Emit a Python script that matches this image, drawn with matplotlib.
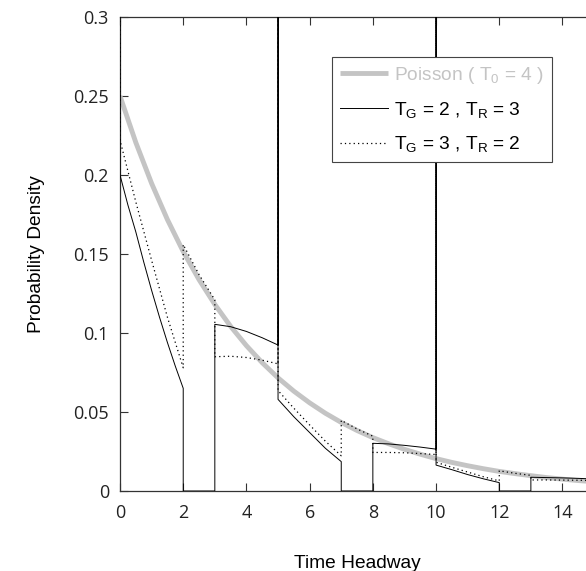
import matplotlib
matplotlib.use("Agg")
import matplotlib.pyplot as plt

plt.rcParams["font.family"] = ["Liberation Sans", "DejaVu Sans"]
plt.rcParams["mathtext.fontset"] = "custom"
plt.rcParams["mathtext.rm"] = "Liberation Sans"
plt.rcParams["mathtext.it"] = "Liberation Sans"

TOP = 1.0  # impulses run off the top of the plot

# Poisson density, T0 = 4
poisson_t = [0, 0.5, 1, 1.5, 2, 2.5, 3, 3.5, 4, 4.5, 5, 5.5, 6, 6.5, 7, 7.5,
             8, 8.5, 9, 9.5, 10, 10.5, 11, 11.5, 12, 12.5, 13, 13.5, 14, 14.5, 15]
poisson_p = [0.2500, 0.2206, 0.1947, 0.1718, 0.1516, 0.1338, 0.1181, 0.1042,
             0.0920, 0.0812, 0.0716, 0.0632, 0.0558, 0.0492, 0.0434, 0.0383,
             0.0338, 0.0299, 0.0264, 0.0233, 0.0205, 0.0181, 0.0160, 0.0141,
             0.0124, 0.0110, 0.0097, 0.0085, 0.0075, 0.0066, 0.0059]

# TG = 2, TR = 3
g2r3_t = [0, 0, 0.25, 0.5, 0.75, 1.0, 1.25, 1.5, 1.75, 2, 2, 3, 3, 3.5, 4, 4.5, 5,
          5, 5, 5.5, 6, 6.5, 7, 7, 8, 8, 8.5, 9, 9.5, 10,
          10, 10, 10.5, 11, 11.5, 12, 12, 13, 13, 13.5, 14, 14.5, 15]
g2r3_p = [TOP, 0.200, 0.181, 0.164, 0.145, 0.127, 0.110, 0.094, 0.079, 0.065, 0, 0,
          0.1055, 0.1040, 0.1010, 0.0970, 0.0924,
          TOP, 0.058, 0.047, 0.037, 0.027, 0.0186, 0, 0, 0.0302, 0.0298, 0.0289, 0.0278, 0.0265,
          TOP, 0.0164, 0.0135, 0.0104, 0.0077, 0.0053, 0, 0, 0.0087, 0.0085, 0.0083, 0.0080, 0.0076]

# TG = 3, TR = 2
g3r2_t = [0, 0, 0.5, 1, 1.5, 2, 2, 2.5, 3, 3, 3.5, 4, 4.5, 5,
          5, 5, 5.5, 6, 6.5, 7, 7, 7.5, 8, 8, 8.5, 9, 9.5, 10,
          10, 10, 10.5, 11, 11.5, 12, 12, 12.5, 13, 13, 13.5, 14, 14.5, 15]
g3r2_p = [TOP, 0.222, 0.183, 0.146, 0.110, 0.078, 0.156, 0.137, 0.121, 0.085, 0.0853, 0.0845, 0.0828, 0.0805,
          TOP, 0.0636, 0.0524, 0.0418, 0.0315, 0.0223, 0.0447, 0.0393, 0.0347, 0.0244, 0.0244, 0.0242, 0.0237, 0.0231,
          TOP, 0.0182, 0.0150, 0.0120, 0.0090, 0.0064, 0.0128, 0.0112, 0.0099, 0.0070, 0.0070, 0.0069, 0.0068, 0.0066]

x_ticks = [0, 2, 4, 6, 8, 10, 12, 14]
y_ticks = [0, 0.05, 0.1, 0.15, 0.2, 0.25, 0.3]
y_ticklabels = ["0", "0.05", "0.1", "0.15", "0.2", "0.25", "0.3"]

fig = plt.figure(figsize=(5.86, 5.71), dpi=100)
# axes run past the right edge of the picture, like the original crop
ax = fig.add_axes([0.2048, 0.1401, 0.809, 0.830])

ax.plot(poisson_t, poisson_p, color="#c4c4c4", lw=3.5, solid_capstyle="butt",
        label=r"Poisson ( $\mathrm{T}_0$ = 4 )", zorder=2)
ax.plot(g2r3_t, g2r3_p, color="black", lw=0.7,
        label=r"$\mathrm{T}_\mathrm{G}$ = 2 , $\mathrm{T}_\mathrm{R}$ = 3", zorder=3)
ax.plot(g3r2_t, g3r2_p, color="black", lw=0.9, ls=(0, (1, 2.5)),
        label=r"$\mathrm{T}_\mathrm{G}$ = 3 , $\mathrm{T}_\mathrm{R}$ = 2", zorder=3)

ax.set_xlim(0, 15)
ax.set_ylim(0, 0.3)
ax.set_xticks(x_ticks)
ax.set_xticklabels([str(v) for v in x_ticks], family="Open Sans")
ax.set_yticks(y_ticks)
ax.set_yticklabels(y_ticklabels, family="Open Sans")
ax.tick_params(direction="in", length=6, width=0.8, color="#333333",
               labelsize=13, top=True, right=True, labelcolor="#222222")
ax.tick_params(axis="x", pad=9)
ax.tick_params(axis="y", pad=8)
for s in ax.spines.values():
    s.set_linewidth(0.9)
    s.set_color("#333333")

ax.set_xlabel("Time Headway", fontsize=13.8, labelpad=24)
ax.set_ylabel("Probability Density", fontsize=13.8, labelpad=20)

leg = ax.legend(loc="upper left", bbox_to_anchor=(0.447, 0.916), borderaxespad=0,
                fancybox=False, edgecolor="#444444", framealpha=1, fontsize=13.8,
                handlelength=2.5, handletextpad=0.35, labelspacing=0.75,
                borderpad=0.4, labelcolor=["#c4c4c4", "black", "black"])
leg.get_frame().set_linewidth(0.8)

fig.savefig("out.png", dpi=100)
